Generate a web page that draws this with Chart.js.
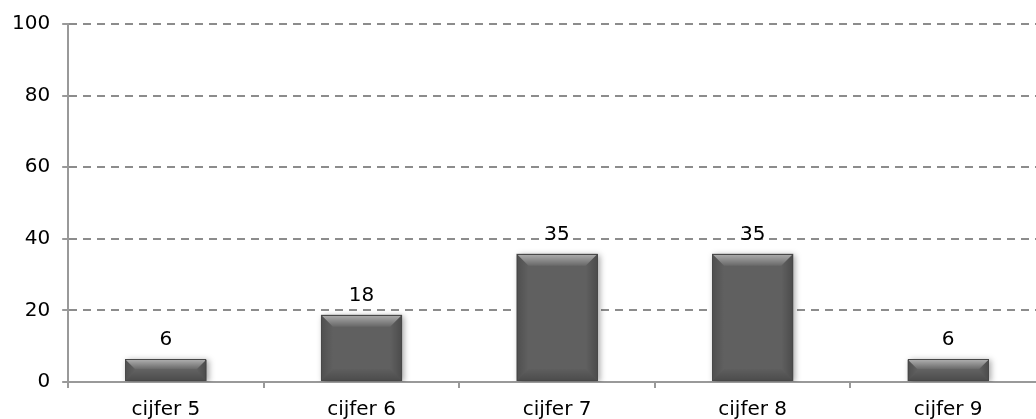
<!DOCTYPE html>
<html><head><meta charset="utf-8">
<script src="https://cdn.jsdelivr.net/npm/chart.js@4/dist/chart.umd.min.js"></script>
<style>html,body{margin:0;padding:0;background:#fff;overflow:hidden;width:1036px;height:419px}
#wrap{width:1050px;height:434px;position:relative}</style></head>
<body><div id="wrap"><canvas id="c"></canvas></div>
<script>
const categories = ['cijfer 5', 'cijfer 6', 'cijfer 7', 'cijfer 8', 'cijfer 9'];
const values = [6.3, 18.8, 35.8, 35.8, 6.3];
const valueLabels = ['6', '18', '35', '35', '6'];
const yMin = 0, yMax = 100, yStep = 20;

const FONT = '"DejaVu Sans", sans-serif';

const bevelPlugin = {
  id: 'bevel',
  afterDatasetsDraw(chart) {
    const ctx = chart.ctx;
    const meta = chart.getDatasetMeta(0);
    meta.data.forEach((bar, i) => {
      const l = bar.x - bar.width / 2, r = bar.x + bar.width / 2;
      const t = bar.y, b = bar.base;
      const h = b - t;
      const bv = Math.min(12, h / 2.2);
      ctx.save();
      let g = ctx.createLinearGradient(0, t, 0, t + bv);
      g.addColorStop(0, 'rgba(255,255,255,0.5)');
      g.addColorStop(1, 'rgba(255,255,255,0.05)');
      ctx.fillStyle = g;
      ctx.beginPath();
      ctx.moveTo(l, t); ctx.lineTo(r, t); ctx.lineTo(r - bv, t + bv); ctx.lineTo(l + bv, t + bv); ctx.closePath();
      ctx.fill();
      g = ctx.createLinearGradient(0, b - bv, 0, b);
      g.addColorStop(0, 'rgba(0,0,0,0.02)');
      g.addColorStop(1, 'rgba(0,0,0,0.22)');
      ctx.fillStyle = g;
      ctx.beginPath();
      ctx.moveTo(l, b); ctx.lineTo(r, b); ctx.lineTo(r - bv, b - bv); ctx.lineTo(l + bv, b - bv); ctx.closePath();
      ctx.fill();
      g = ctx.createLinearGradient(l, 0, l + bv, 0);
      g.addColorStop(0, 'rgba(0,0,0,0.18)');
      g.addColorStop(1, 'rgba(0,0,0,0)');
      ctx.fillStyle = g;
      ctx.beginPath();
      ctx.moveTo(l, t); ctx.lineTo(l + bv, t + bv); ctx.lineTo(l + bv, b - bv); ctx.lineTo(l, b); ctx.closePath();
      ctx.fill();
      g = ctx.createLinearGradient(r, 0, r - bv, 0);
      g.addColorStop(0, 'rgba(0,0,0,0.22)');
      g.addColorStop(1, 'rgba(0,0,0,0)');
      ctx.fillStyle = g;
      ctx.beginPath();
      ctx.moveTo(r, t); ctx.lineTo(r - bv, t + bv); ctx.lineTo(r - bv, b - bv); ctx.lineTo(r, b); ctx.closePath();
      ctx.fill();
      ctx.strokeStyle = '#484848';
      ctx.lineWidth = 1;
      ctx.strokeRect(Math.round(l) + 0.5, Math.round(t) + 0.5, Math.round(r - l) - 1, Math.round(b - t) - 1);
      ctx.fillStyle = '#000';
      ctx.font = '20px ' + FONT;
      ctx.textAlign = 'center';
      ctx.textBaseline = 'alphabetic';
      ctx.fillText(valueLabels[i], bar.x, t - 14);
      ctx.restore();
    });
  }
};

const shadowPlugin = {
  id: 'shadow',
  beforeDatasetsDraw(chart) {
    const ctx = chart.ctx;
    ctx.save();
    ctx.shadowColor = 'rgba(0,0,0,0.35)';
    ctx.shadowBlur = 6;
    ctx.shadowOffsetX = 2;
    ctx.shadowOffsetY = 1;
  },
  afterDatasetsDraw(chart) {
    chart.ctx.restore();
  }
};

new Chart(document.getElementById('c'), {
  type: 'bar',
  data: {
    labels: categories,
    datasets: [{
      data: values,
      backgroundColor: '#606060',
      borderWidth: 0,
      categoryPercentage: 1.0,
      barPercentage: 0.415
    }]
  },
  plugins: [shadowPlugin, bevelPlugin],
  options: {
    responsive: true,
    maintainAspectRatio: false,
    animation: false,
    layout: { padding: { left: 0, right: 4, top: 11, bottom: 2 } },
    plugins: { legend: { display: false }, tooltip: { enabled: false } },
    scales: {
      x: {
        offset: true,
        grid: { offset: true, drawOnChartArea: false, drawTicks: true, tickLength: 6, color: '#999', lineWidth: 2 },
        border: { display: true, color: '#999', width: 2 },
        ticks: { color: '#000', font: { family: FONT, size: 20 }, padding: 10, maxRotation: 0 }
      },
      y: {
        min: yMin, max: yMax,
        ticks: { stepSize: yStep, color: '#000', font: { family: FONT, size: 20 }, padding: 12 },
        grid: { color: '#8c8c8c', lineWidth: 2, tickLength: 6, tickColor: '#999', tickBorderDash: [] },
        border: { display: true, color: '#999', width: 2, dash: [8, 6] }
      }
    }
  }
});
</script>
</body></html>
